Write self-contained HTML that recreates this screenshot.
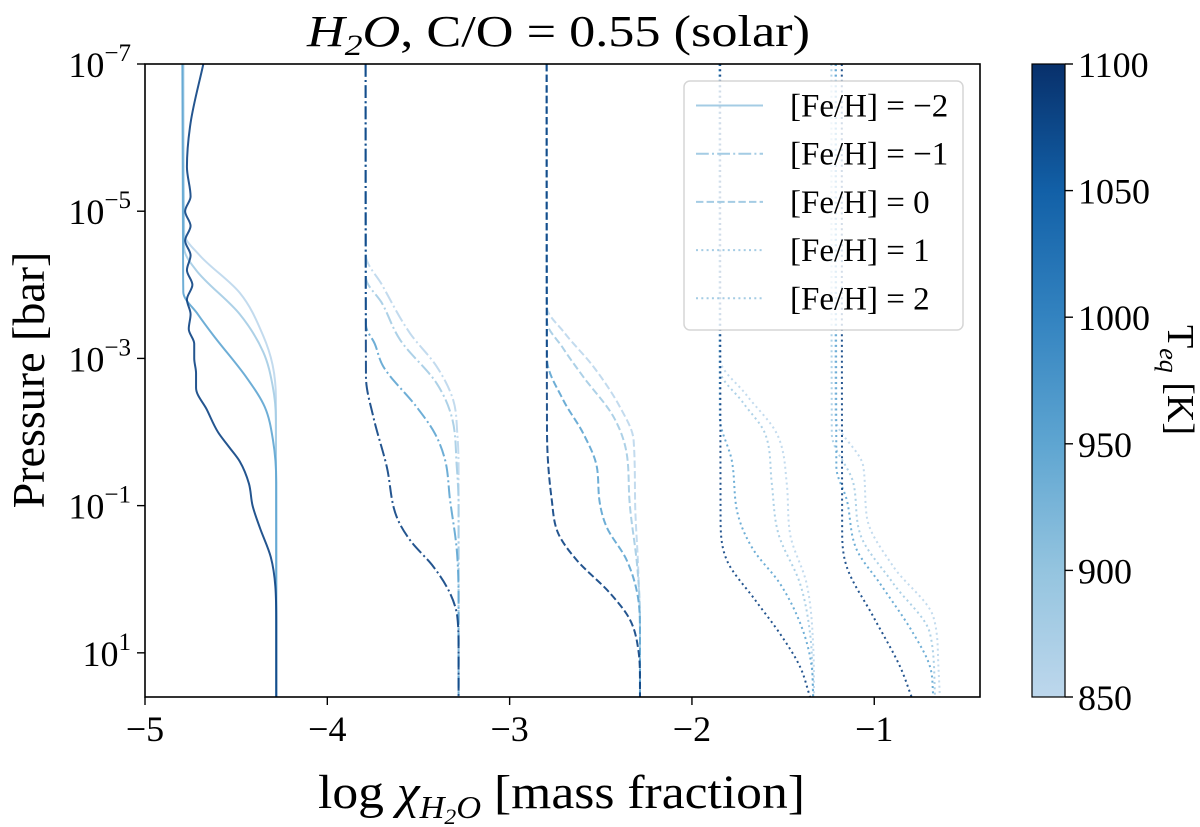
<!DOCTYPE html>
<html><head><meta charset="utf-8"><style>
body{margin:0;background:#fff}
svg{display:block}
text{font-family:"Liberation Serif",serif;fill:#000}
</style></head><body>
<svg id="chart" width="1200" height="827" viewBox="0 0 1200 827" xmlns="http://www.w3.org/2000/svg">
<defs>
<clipPath id="plotclip"><rect x="145" y="64" width="835" height="633"/></clipPath>
<linearGradient id="cbgrad" x1="0" y1="1" x2="0" y2="0">
<stop offset="0" stop-color="#bdd7ec"/><stop offset="0.2" stop-color="#94c4df"/><stop offset="0.4" stop-color="#5ea5d1"/><stop offset="0.6" stop-color="#3383c0"/><stop offset="0.8" stop-color="#1260a7"/><stop offset="1" stop-color="#08306b"/>
</linearGradient>
</defs>
<text x="307" y="46" font-size="44" textLength="503" lengthAdjust="spacingAndGlyphs"><tspan font-style="italic">H</tspan><tspan font-style="italic" font-size="30" dy="9">2</tspan><tspan font-style="italic" dy="-9">O</tspan>, C/O = 0.55 (solar)</text>
<g id="lines" clip-path="url(#plotclip)"></g>
<rect x="145" y="64" width="835" height="633" fill="none" stroke="#000" stroke-width="1.6"/>
<g id="xticks"></g>
<g id="yticks"></g>
<text x="318" y="808" font-size="48" textLength="487" lengthAdjust="spacingAndGlyphs">log <tspan font-style="italic">χ</tspan><tspan font-style="italic" font-size="32" dy="10">H</tspan><tspan font-style="italic" font-size="22" dy="6">2</tspan><tspan font-style="italic" font-size="32" dy="-6">O</tspan><tspan dy="-10"> [mass fraction]</tspan></text>
<text transform="translate(44,380) rotate(-90)" font-size="46" text-anchor="middle">Pressure [bar]</text>
<g>
<rect x="684" y="81" width="279" height="249" rx="6" fill="#fff" fill-opacity="0.8" stroke="#d6d6d6" stroke-width="1.5"/>
<g id="legend-entries"></g>
</g>
<rect x="1032" y="64" width="33" height="633" fill="url(#cbgrad)" stroke="#000" stroke-width="1.2"/>
<g id="cbticks"></g>
<text transform="translate(1168,380) rotate(90)" font-size="38" text-anchor="middle">T<tspan font-style="italic" font-size="26" dy="8">eq</tspan><tspan dy="-8"> [K]</tspan></text>
</svg>
<script>
const xTicks = [-5, -4, -3, -2, -1];
const yTickExps = [-7, -5, -3, -1, 1];
const cbTicks = [850, 900, 950, 1000, 1050, 1100];
const temps = [850, 880, 950, 1080];
const metallicities = ["−2", "−1", "0", "1", "2"];
const dashes = ["", "12.8 3.2 2 3.2", "7.4 3.2", "2 3.3", "2 3.3"];
// each curve: [logP, logX] points
const feHm2 = [
 [[-7,-4.79],[-4.7,-4.785],[-4.4,-4.70],[-3.89,-4.48],[-3.31,-4.352],[-2.91,-4.30],[-2.46,-4.282],[1.6,-4.28]],
 [[-7,-4.79],[-4.5,-4.785],[-4.2,-4.72],[-3.6,-4.48],[-3.09,-4.352],[-2.63,-4.30],[-2.17,-4.282],[1.6,-4.28]],
 [[-7,-4.795],[-3.9,-4.79],[-3.6,-4.71],[-3.31,-4.624],[-2.74,-4.443],[-2.34,-4.343],[-1.89,-4.298],[-1.31,-4.28],[1.6,-4.28]],
 [[-7,-4.68],[-6.2,-4.75],[-5.6,-4.77],[-5.2,-4.75],[-5.0,-4.78],[-4.8,-4.75],[-4.6,-4.78],[-4.4,-4.75],[-4.2,-4.77],[-4.0,-4.74],[-3.8,-4.77],[-3.6,-4.75],[-3.4,-4.76],[-3.2,-4.73],[-3.0,-4.73],[-2.8,-4.72],[-2.6,-4.72],[-2.3,-4.66],[-2.0,-4.6],[-1.8,-4.54],[-1.6,-4.48],[-1.3,-4.43],[-1.0,-4.41],[-0.7,-4.37],[-0.3,-4.31],[0.1,-4.285],[0.6,-4.28],[1.6,-4.28]]
];
const feHm1 = [
 [[-7,-3.79],[-4.4,-3.788],[-4.0,-3.70],[-3.34,-3.546],[-2.89,-3.40],[-2.43,-3.309],[-1.98,-3.287],[-1.5,-3.28],[1.6,-3.28]],
 [[-7,-3.79],[-4.1,-3.788],[-3.75,-3.70],[-3.25,-3.60],[-2.66,-3.40],[-2.21,-3.318],[-1.53,-3.29],[-1.0,-3.28],[1.6,-3.28]],
 [[-7,-3.79],[-3.45,-3.788],[-3.2,-3.74],[-2.89,-3.693],[-2.34,-3.51],[-1.98,-3.41],[-1.62,-3.354],[-1.08,-3.327],[-0.4,-3.29],[0.28,-3.28],[1.6,-3.28]],
 [[-7,-3.79],[-2.75,-3.788],[-2.21,-3.748],[-1.53,-3.674],[-0.85,-3.62],[-0.53,-3.546],[-0.17,-3.418],[0.19,-3.327],[0.51,-3.287],[0.96,-3.28],[1.6,-3.28]]
];
const feH0 = [
 [[-7,-2.797],[-3.7,-2.795],[-3.35,-2.70],[-2.89,-2.541],[-2.34,-2.395],[-1.89,-2.32],[-1.08,-2.312],[-0.17,-2.295],[0.74,-2.285],[1.6,-2.285]],
 [[-7,-2.797],[-3.5,-2.795],[-3.15,-2.71],[-2.75,-2.596],[-2.21,-2.431],[-1.71,-2.358],[-1.08,-2.343],[-0.17,-2.30],[0.51,-2.285],[1.6,-2.285]],
 [[-7,-2.797],[-3.0,-2.795],[-2.43,-2.705],[-1.98,-2.596],[-1.53,-2.522],[-1.08,-2.508],[-0.71,-2.468],[-0.26,-2.358],[0.28,-2.294],[0.74,-2.285],[1.6,-2.285]],
 [[-7,-2.797],[-2.0,-2.795],[-1.08,-2.769],[-0.62,-2.733],[-0.26,-2.632],[0.19,-2.449],[0.55,-2.34],[0.96,-2.294],[1.41,-2.285],[1.6,-2.285]]
];
const feHp1 = [
 [[-7,-1.849],[-3.0,-1.847],[-2.5,-1.70],[-1.98,-1.535],[-1.30,-1.48],[-0.62,-1.462],[0.06,-1.371],[0.96,-1.334],[1.6,-1.33]],
 [[-7,-1.849],[-2.85,-1.847],[-2.4,-1.72],[-1.98,-1.599],[-1.30,-1.562],[-0.62,-1.526],[0.06,-1.407],[0.74,-1.352],[1.6,-1.335]],
 [[-7,-1.849],[-2.2,-1.847],[-1.62,-1.782],[-0.85,-1.745],[-0.40,-1.663],[0.06,-1.517],[0.65,-1.398],[1.19,-1.343],[1.6,-1.335]],
 [[-7,-1.845],[-0.85,-1.843],[-0.26,-1.809],[0.28,-1.654],[0.74,-1.517],[1.19,-1.407],[1.6,-1.352]]
];
const feHp2 = [
 [[-7,-1.215],[-2.2,-1.213],[-1.53,-1.06],[-0.85,-1.041],[-0.17,-0.895],[0.51,-0.676],[1.19,-0.648],[1.6,-0.64]],
 [[-7,-1.235],[-1.98,-1.233],[-1.30,-1.114],[-0.62,-1.078],[0.06,-0.895],[0.74,-0.694],[1.6,-0.667]],
 [[-7,-1.21],[-1.53,-1.208],[-1.08,-1.151],[-0.40,-1.096],[0.06,-0.968],[0.74,-0.785],[1.19,-0.694],[1.6,-0.676]],
 [[-7,-1.178],[-0.62,-1.176],[-0.17,-1.151],[0.51,-1.005],[1.19,-0.858],[1.6,-0.795]]
];
const groups = [feHm2, feHm1, feH0, feHp1, feHp2];

const NS = "http://www.w3.org/2000/svg";
const X0 = 145, X1 = 980, Y0 = 64, Y1 = 697;
const xMin = -5, xMax = -0.42, yMin = -7, yMax = 1.6;
function xs(v){ return X0 + (v - xMin) / (xMax - xMin) * (X1 - X0); }
function ys(v){ return Y0 + (v - yMin) / (yMax - yMin) * (Y1 - Y0); }
const cStops = [[0,[189,215,236]],[0.2,[148,196,223]],[0.4,[94,165,209]],[0.6,[51,131,192]],[0.8,[18,96,167]],[1,[8,48,107]]];
function cmap(t){
  let f = Math.max(0, Math.min(1, (t - 850) / 250));
  for (let i = 1; i < cStops.length; i++) {
    if (f <= cStops[i][0]) {
      const a = cStops[i-1], b = cStops[i], u = (f - a[0]) / (b[0] - a[0]);
      const c = a[1].map((v, k) => Math.round(v + (b[1][k] - v) * u));
      return `rgb(${c[0]},${c[1]},${c[2]})`;
    }
  }
  return "rgb(8,48,107)";
}
// monotone cubic (Fritsch-Carlson) for x as a function of y
function monoPath(pts){
  const n = pts.length, ysA = pts.map(p => p[1]), xsA = pts.map(p => p[0]);
  const d = [], m = new Array(n);
  for (let i = 0; i < n - 1; i++) d.push((xsA[i+1] - xsA[i]) / (ysA[i+1] - ysA[i]));
  m[0] = d[0]; m[n-1] = d[n-2];
  for (let i = 1; i < n - 1; i++) m[i] = (d[i-1] * d[i] <= 0) ? 0 : (d[i-1] + d[i]) / 2;
  for (let i = 0; i < n - 1; i++) {
    if (d[i] === 0) { m[i] = 0; m[i+1] = 0; continue; }
    const a = m[i] / d[i], b = m[i+1] / d[i], s = a*a + b*b;
    if (s > 9) { const t = 3 / Math.sqrt(s); m[i] = t * a * d[i]; m[i+1] = t * b * d[i]; }
  }
  let path = `M${xsA[0].toFixed(2)},${ysA[0].toFixed(2)}`;
  for (let i = 0; i < n - 1; i++) {
    const h = (ysA[i+1] - ysA[i]) / 3;
    path += ` C${(xsA[i] + m[i]*h).toFixed(2)},${(ysA[i] + h).toFixed(2)} ${(xsA[i+1] - m[i+1]*h).toFixed(2)},${(ysA[i+1] - h).toFixed(2)} ${xsA[i+1].toFixed(2)},${ysA[i+1].toFixed(2)}`;
  }
  return path;
}
const linesG = document.getElementById("lines");
groups.forEach((grp, gi) => {
  grp.forEach((curve, ci) => {
    const p = document.createElementNS(NS, "path");
    p.setAttribute("d", monoPath(curve.map(q => [xs(q[1]), ys(q[0])])));
    p.setAttribute("fill", "none");
    p.setAttribute("stroke", cmap(temps[ci]));
    p.setAttribute("stroke-width", "2");
    p.setAttribute("stroke-opacity", "0.9");
    if (dashes[gi]) p.setAttribute("stroke-dasharray", dashes[gi]);
    
    
    linesG.appendChild(p);
  });
});
const xg = document.getElementById("xticks");
xTicks.forEach(v => {
  const x = xs(v);
  const l = document.createElementNS(NS, "line");
  l.setAttribute("x1", x); l.setAttribute("x2", x); l.setAttribute("y1", Y1); l.setAttribute("y2", Y1 + 8);
  l.setAttribute("stroke", "#000"); l.setAttribute("stroke-width", "1.4");
  
  
  xg.appendChild(l);
  const t = document.createElementNS(NS, "text");
  t.setAttribute("x", x); t.setAttribute("y", Y1 + 44); t.setAttribute("font-size", "36"); t.setAttribute("text-anchor", "middle");
  t.textContent = v < 0 ? "−" + Math.abs(v) : String(v);
  
  
  xg.appendChild(t);
});
const yg = document.getElementById("yticks");
yTickExps.forEach(e => {
  const y = ys(e);
  const l = document.createElementNS(NS, "line");
  l.setAttribute("x1", X0 - 8); l.setAttribute("x2", X0); l.setAttribute("y1", y); l.setAttribute("y2", y);
  l.setAttribute("stroke", "#000"); l.setAttribute("stroke-width", "1.4");
  
  
  yg.appendChild(l);
  const t = document.createElementNS(NS, "text");
  t.setAttribute("x", X0 - 14); t.setAttribute("y", y + 13); t.setAttribute("font-size", "36"); t.setAttribute("text-anchor", "end");
  const base = document.createElementNS(NS, "tspan"); base.textContent = "10";
  const sup = document.createElementNS(NS, "tspan"); sup.setAttribute("font-size", "25"); sup.setAttribute("dy", "-16");
  sup.textContent = e < 0 ? "−" + Math.abs(e) : String(e);
  t.appendChild(base); t.appendChild(sup);
  
  
  yg.appendChild(t);
});
const cg = document.getElementById("cbticks");
cbTicks.forEach(v => {
  const y = Y1 - (v - 850) / 250 * (Y1 - Y0);
  const l = document.createElementNS(NS, "line");
  l.setAttribute("x1", 1065); l.setAttribute("x2", 1073); l.setAttribute("y1", y); l.setAttribute("y2", y);
  l.setAttribute("stroke", "#000"); l.setAttribute("stroke-width", "1.4");
  
  
  cg.appendChild(l);
  const t = document.createElementNS(NS, "text");
  t.setAttribute("x", 1078); t.setAttribute("y", y + 13); t.setAttribute("font-size", "36");
  t.textContent = String(v);
  
  
  cg.appendChild(t);
});
const lg = document.getElementById("legend-entries");
metallicities.forEach((m, i) => {
  const y = 105.5 + i * 48.2;
  const l = document.createElementNS(NS, "line");
  l.setAttribute("x1", 696); l.setAttribute("x2", 763); l.setAttribute("y1", y); l.setAttribute("y2", y);
  l.setAttribute("stroke", cmap(880)); l.setAttribute("stroke-width", "2");
  if (dashes[i]) l.setAttribute("stroke-dasharray", dashes[i]);
  
  
  lg.appendChild(l);
  const t = document.createElementNS(NS, "text");
  t.setAttribute("x", 790); t.setAttribute("y", y + 11); t.setAttribute("font-size", "33");
  t.textContent = "[Fe/H] = " + m;
  
  
  lg.appendChild(t);
});
</script>
</body></html>
